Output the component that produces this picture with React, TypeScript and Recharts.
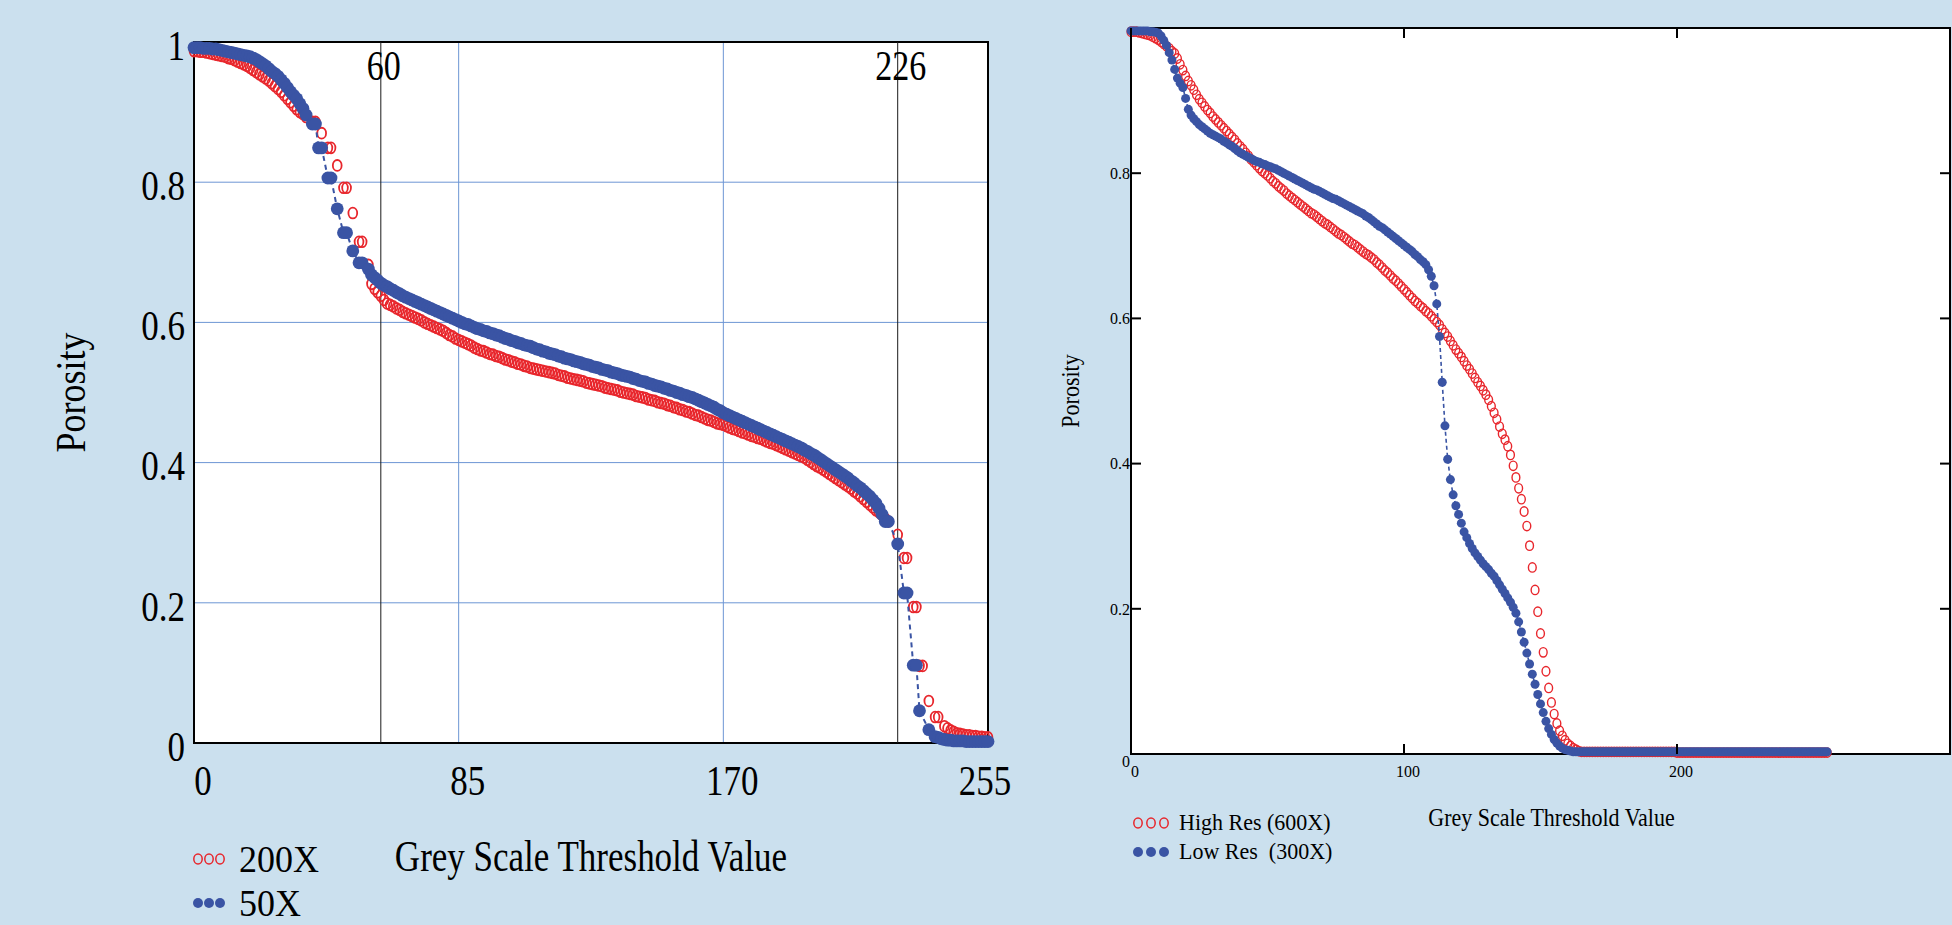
import React from 'react';
import {
  ScatterChart,
  Scatter,
  XAxis,
  YAxis,
  CartesianGrid,
  ReferenceLine,
  ReferenceArea,
  Legend,
} from 'recharts';

const SERIF = '"Liberation Serif", "Times New Roman", Times, serif';
const PAGE_BG = '#cbe0ee';
const RED = '#e8262c';
const BLUE = '#3a54a4';
const GRID_BLUE = '#6d96d4';

// threshold values on the x axis
const greyLevels = Array.from({ length: 256 }, (_, i) => i);

// left panel: porosity vs threshold, 200X and 50X (null = no sample at that level)
const porosity200X: (number | null)[] = [
  0.987, 0.987, 0.986, 0.986, 0.985, 0.984, 0.983, 0.982, 0.981, 0.980,
  0.979, 0.977, 0.976, 0.974, 0.972, 0.970, 0.968, 0.966, 0.963, 0.960,
  0.957, 0.954, 0.951, 0.948, 0.945, 0.941, 0.937, 0.933, 0.929, 0.924,
  0.919, 0.914, 0.909, 0.904, 0.900, 0.897, 0.893, null, 0.886, 0.886,
  null, 0.870, null, 0.849, 0.849, null, 0.824, null, 0.792, 0.792,
  null, 0.756, null, 0.715, 0.715, null, 0.682, 0.655, 0.648, 0.643,
  0.638, 0.632, 0.627, 0.625, 0.623, 0.620, 0.618, 0.615, 0.613, 0.611,
  0.609, 0.607, 0.605, 0.603, 0.600, 0.598, 0.596, 0.594, 0.592, 0.590,
  0.588, 0.585, 0.582, 0.580, 0.577, 0.575, 0.573, 0.571, 0.569, 0.567,
  0.564, 0.562, 0.560, 0.559, 0.557, 0.555, 0.554, 0.552, 0.551, 0.549,
  0.547, 0.546, 0.544, 0.543, 0.541, 0.540, 0.538, 0.537, 0.535, 0.534,
  0.533, 0.532, 0.531, 0.530, 0.529, 0.528, 0.527, 0.525, 0.524, 0.523,
  0.521, 0.520, 0.519, 0.518, 0.517, 0.516, 0.514, 0.513, 0.512, 0.511,
  0.510, 0.509, 0.507, 0.506, 0.505, 0.504, 0.503, 0.501, 0.500, 0.499,
  0.498, 0.497, 0.495, 0.494, 0.493, 0.492, 0.490, 0.489, 0.488, 0.486,
  0.485, 0.484, 0.482, 0.481, 0.479, 0.478, 0.476, 0.475, 0.473, 0.472,
  0.470, 0.468, 0.467, 0.465, 0.463, 0.461, 0.460, 0.458, 0.456, 0.455,
  0.454, 0.452, 0.450, 0.448, 0.447, 0.445, 0.443, 0.442, 0.440, 0.438,
  0.437, 0.435, 0.434, 0.432, 0.430, 0.428, 0.427, 0.425, 0.423, 0.421,
  0.419, 0.417, 0.415, 0.413, 0.411, 0.409, 0.407, 0.404, 0.401, 0.398,
  0.395, 0.393, 0.390, 0.387, 0.384, 0.381, 0.378, 0.375, 0.372, 0.369,
  0.366, 0.363, 0.359, 0.356, 0.352, 0.348, 0.344, 0.340, 0.336, 0.332,
  0.329, 0.325, 0.320, 0.316, null, null, 0.297, null, 0.264, 0.264,
  null, 0.194, 0.194, 0.110, 0.110, null, 0.060, null, 0.037, 0.037,
  null, 0.024, 0.021, 0.018, 0.016, 0.014, 0.013, 0.012, 0.011, 0.011,
  0.010, 0.010, 0.009, 0.009, 0.008, 0.008,
];

const porosity50X: (number | null)[] = [
  0.992, 0.992, 0.992, 0.991, 0.991, 0.991, 0.990, 0.990, 0.989, 0.988,
  0.987, 0.986, 0.985, 0.984, 0.983, 0.982, 0.981, 0.980, 0.979, 0.977,
  0.975, 0.972, 0.969, 0.966, 0.962, 0.958, 0.955, 0.951, 0.946, 0.941,
  0.935, 0.929, 0.924, 0.919, 0.912, 0.905, 0.896, null, 0.883, 0.883,
  0.849, 0.849, null, 0.806, 0.806, null, 0.762, null, 0.728, 0.728,
  null, 0.702, null, 0.685, 0.685, null, 0.676, 0.668, 0.664, 0.660,
  0.656, 0.653, 0.651, 0.648, 0.646, 0.643, 0.641, 0.638, 0.636, 0.634,
  0.632, 0.630, 0.628, 0.626, 0.624, 0.622, 0.620, 0.618, 0.616, 0.614,
  0.612, 0.610, 0.608, 0.606, 0.604, 0.602, 0.600, 0.598, 0.597, 0.595,
  0.593, 0.591, 0.590, 0.588, 0.587, 0.585, 0.584, 0.582, 0.581, 0.579,
  0.577, 0.576, 0.574, 0.573, 0.571, 0.570, 0.568, 0.567, 0.566, 0.564,
  0.562, 0.561, 0.559, 0.558, 0.556, 0.555, 0.554, 0.552, 0.551, 0.549,
  0.548, 0.547, 0.545, 0.544, 0.543, 0.541, 0.540, 0.539, 0.537, 0.536,
  0.535, 0.533, 0.532, 0.531, 0.529, 0.528, 0.527, 0.525, 0.524, 0.523,
  0.522, 0.520, 0.519, 0.517, 0.516, 0.515, 0.513, 0.512, 0.510, 0.509,
  0.508, 0.506, 0.505, 0.503, 0.502, 0.500, 0.499, 0.497, 0.496, 0.494,
  0.493, 0.491, 0.489, 0.487, 0.485, 0.483, 0.481, 0.479, 0.476, 0.474,
  0.471, 0.469, 0.467, 0.465, 0.463, 0.461, 0.459, 0.457, 0.455, 0.453,
  0.451, 0.449, 0.447, 0.445, 0.443, 0.441, 0.439, 0.437, 0.435, 0.433,
  0.431, 0.429, 0.427, 0.425, 0.423, 0.421, 0.418, 0.416, 0.413, 0.411,
  0.408, 0.405, 0.402, 0.399, 0.396, 0.393, 0.390, 0.387, 0.384, 0.381,
  0.378, 0.374, 0.371, 0.367, 0.364, 0.360, 0.356, 0.352, 0.347, 0.342,
  0.335, 0.326, 0.316, 0.316, null, null, 0.284, null, 0.214, 0.214,
  null, 0.111, 0.111, 0.046, null, null, 0.019, null, 0.009, 0.008,
  0.006, 0.005, 0.004, 0.004, 0.003, 0.003, 0.003, 0.003, 0.002, 0.002,
  0.002, 0.002, 0.002, 0.002, 0.002, 0.002,
];

// right panel: high res (600X) and low res (300X)
const porosityHighRes: (number | null)[] = [
  0.995, 0.995, 0.995, 0.994, 0.993, 0.992, 0.991, 0.990, 0.988, 0.986,
  0.984, 0.981, 0.978, 0.975, 0.972, 0.968, 0.965, 0.958, 0.950, 0.942,
  0.934, 0.927, 0.921, 0.915, 0.908, 0.902, 0.897, 0.892, 0.887, 0.883,
  0.878, 0.874, 0.870, 0.866, 0.862, 0.858, 0.854, 0.850, 0.846, 0.841,
  0.837, 0.833, 0.828, 0.824, 0.819, 0.815, 0.811, 0.807, 0.803, 0.800,
  0.797, 0.793, 0.789, 0.786, 0.782, 0.779, 0.776, 0.772, 0.769, 0.766,
  0.763, 0.760, 0.757, 0.754, 0.751, 0.748, 0.745, 0.743, 0.740, 0.737,
  0.734, 0.731, 0.729, 0.726, 0.723, 0.720, 0.717, 0.715, 0.712, 0.709,
  0.706, 0.703, 0.701, 0.698, 0.695, 0.692, 0.689, 0.687, 0.684, 0.681,
  0.677, 0.674, 0.670, 0.666, 0.663, 0.659, 0.655, 0.652, 0.648, 0.644,
  0.640, 0.636, 0.632, 0.628, 0.624, 0.621, 0.617, 0.614, 0.610, 0.607,
  0.603, 0.599, 0.595, 0.591, 0.585, 0.580, 0.575, 0.569, 0.563, 0.557,
  0.552, 0.547, 0.541, 0.535, 0.530, 0.524, 0.518, 0.512, 0.507, 0.501,
  0.495, 0.488, 0.479, 0.470, 0.461, 0.451, 0.441, 0.433, 0.424, 0.412,
  0.397, 0.381, 0.366, 0.351, 0.334, 0.314, 0.287, 0.257, 0.226, 0.196,
  0.166, 0.140, 0.114, 0.091, 0.071, 0.055, 0.042, 0.032, 0.025, 0.019,
  0.014, 0.011, 0.008, 0.006, 0.004, 0.003, 0.003, 0.003, 0.003, 0.003,
  0.003, 0.003, 0.003, 0.003, 0.003, 0.003, 0.003, 0.003, 0.003, 0.003,
  0.003, 0.003, 0.003, 0.003, 0.003, 0.003, 0.003, 0.003, 0.003, 0.003,
  0.003, 0.003, 0.003, 0.003, 0.003, 0.003, 0.003, 0.003, 0.003, 0.003,
  0.002, 0.002, 0.002, 0.002, 0.002, 0.002, 0.002, 0.002, 0.002, 0.002,
  0.002, 0.002, 0.002, 0.002, 0.002, 0.002, 0.002, 0.002, 0.002, 0.002,
  0.002, 0.002, 0.002, 0.002, 0.002, 0.002, 0.002, 0.002, 0.002, 0.002,
  0.002, 0.002, 0.002, 0.002, 0.002, 0.002, 0.002, 0.002, 0.002, 0.002,
  0.002, 0.002, 0.002, 0.002, 0.002, 0.002, 0.002, 0.002, 0.002, 0.002,
  0.002, 0.002, 0.002, 0.002, 0.002, 0.002,
];

const porosityLowRes: (number | null)[] = [
  0.996, 0.996, 0.996, 0.996, 0.996, 0.996, 0.996, 0.995, 0.995, 0.994,
  0.993, 0.989, 0.983, 0.976, 0.966, 0.956, 0.943, 0.931, 0.924, 0.918,
  0.903, 0.888, 0.880, 0.875, 0.871, 0.867, 0.864, 0.861, 0.858, 0.855,
  0.853, 0.851, 0.849, 0.847, 0.844, 0.842, 0.839, 0.837, 0.834, 0.831,
  0.828, 0.826, 0.824, 0.822, 0.820, 0.818, 0.816, 0.815, 0.813, 0.812,
  0.810, 0.809, 0.807, 0.806, 0.804, 0.802, 0.800, 0.798, 0.796, 0.794,
  0.792, 0.790, 0.788, 0.786, 0.784, 0.782, 0.780, 0.778, 0.777, 0.775,
  0.773, 0.771, 0.769, 0.767, 0.765, 0.764, 0.762, 0.760, 0.758, 0.756,
  0.754, 0.752, 0.750, 0.748, 0.746, 0.744, 0.741, 0.739, 0.736, 0.733,
  0.730, 0.727, 0.725, 0.722, 0.719, 0.716, 0.713, 0.710, 0.707, 0.704,
  0.701, 0.698, 0.695, 0.692, 0.688, 0.685, 0.681, 0.678, 0.674, 0.667,
  0.658, 0.645, 0.620, 0.575, 0.512, 0.452, 0.406, 0.378, 0.357, 0.342,
  0.330, 0.318, 0.306, 0.298, 0.290, 0.283, 0.277, 0.272, 0.267, 0.262,
  0.258, 0.254, 0.249, 0.245, 0.239, 0.233, 0.227, 0.221, 0.215, 0.209,
  0.202, 0.194, 0.182, 0.168, 0.154, 0.139, 0.124, 0.110, 0.096, 0.082,
  0.069, 0.057, 0.045, 0.035, 0.027, 0.020, 0.015, 0.011, 0.008, 0.006,
  0.005, 0.004, 0.003, 0.003, 0.003, 0.003, 0.003, 0.003, 0.003, 0.003,
  0.003, 0.003, 0.003, 0.003, 0.003, 0.003, 0.003, 0.003, 0.003, 0.003,
  0.003, 0.003, 0.003, 0.003, 0.003, 0.003, 0.003, 0.003, 0.003, 0.003,
  0.003, 0.003, 0.003, 0.003, 0.003, 0.003, 0.003, 0.003, 0.003, 0.003,
  0.003, 0.003, 0.003, 0.003, 0.003, 0.003, 0.003, 0.003, 0.003, 0.003,
  0.003, 0.003, 0.003, 0.003, 0.003, 0.003, 0.003, 0.003, 0.003, 0.003,
  0.003, 0.003, 0.003, 0.003, 0.003, 0.003, 0.003, 0.003, 0.003, 0.003,
  0.003, 0.003, 0.003, 0.003, 0.003, 0.003, 0.003, 0.003, 0.003, 0.003,
  0.003, 0.003, 0.003, 0.003, 0.003, 0.003, 0.003, 0.003, 0.003, 0.003,
  0.003, 0.003, 0.003, 0.003, 0.003, 0.003,
];

const leftXTicks = [0, 85, 170, 255];
const leftYTicks = [0, 0.2, 0.4, 0.6, 0.8, 1];
const rightXTicks = [0, 100, 200, 300];
const rightYTicks = [0, 0.2, 0.4, 0.6, 0.8, 1];
const markedLevels = [60, 226];

const toPoints = (ys: (number | null)[]) =>
  greyLevels
    .map((x, i) => ({ x, y: ys[i] }))
    .filter((p) => p.y !== null && p.y !== undefined);

// plot box sizes (px) used by the inward tick marks of the right panel
const RIGHT_PLOT_W = 819;
const RIGHT_PLOT_H = 726;

// Mathcad-like tall serif text
const StretchText = ({ x, y, size, sy = 1.25, anchor = 'middle', rotate = 0, children }: any) => (
  <text
    transform={`translate(${x},${y}) rotate(${rotate}) scale(1,${sy})`}
    textAnchor={anchor}
    dominantBaseline="central"
    fontFamily={SERIF}
    fontSize={size}
    fill="#000"
    style={{ whiteSpace: 'pre' }}
  >
    {children}
  </text>
);

const leftXTick = (p: any) => {
  const v = p.payload.value;
  return (
    <StretchText x={p.x + (v === 255 ? -3 : 9)} y={p.y + 37} size={35} sy={1.22}>
      {String(v)}
    </StretchText>
  );
};

const leftYTick = (p: any) => (
  <StretchText x={p.x - 9} y={p.y + 3} size={35} sy={1.22} anchor="end">
    {String(p.payload.value)}
  </StretchText>
);

const rightXTick = (p: any) => {
  const v = p.payload.value;
  return (
    <g>
      <line x1={p.x} x2={p.x} y1={p.y} y2={p.y - 10} stroke="#000" strokeWidth={2} />
      <line x1={p.x} x2={p.x} y1={p.y - RIGHT_PLOT_H} y2={p.y - RIGHT_PLOT_H + 10} stroke="#000" strokeWidth={2} />
      {v < 300 && (
        <StretchText x={p.x + 4} y={p.y + 17} size={16} sy={1.1}>
          {String(v)}
        </StretchText>
      )}
    </g>
  );
};

const rightYTick = (p: any) => {
  const v = p.payload.value;
  if (v === 1) return <g />;
  return (
    <g>
      <line x1={p.x} x2={p.x + 10} y1={p.y} y2={p.y} stroke="#000" strokeWidth={2} />
      <line x1={p.x + RIGHT_PLOT_W} x2={p.x + RIGHT_PLOT_W - 10} y1={p.y} y2={p.y} stroke="#000" strokeWidth={2} />
      <StretchText x={p.x - 1} y={p.y + (v === 0 ? 7 : 0)} size={16} sy={1.1} anchor="end">
        {String(v)}
      </StretchText>
    </g>
  );
};

const leftXTitle = (p: any) => {
  const vb = p.viewBox;
  return (
    <StretchText x={vb.x + vb.width / 2} y={vb.y + 114} size={35}>
      Grey Scale Threshold Value
    </StretchText>
  );
};

const leftYTitle = (p: any) => {
  const vb = p.viewBox;
  return (
    <StretchText x={vb.x - 63} y={vb.y + vb.height / 2} size={36} sy={1.2} rotate={-90}>
      Porosity
    </StretchText>
  );
};

const rightXTitle = (p: any) => {
  const vb = p.viewBox;
  return (
    <StretchText x={vb.x + vb.width / 2 + 11} y={vb.y + 64} size={22} sy={1.1}>
      Grey Scale Threshold Value
    </StretchText>
  );
};

const rightYTitle = (p: any) => {
  const vb = p.viewBox;
  return (
    <StretchText x={vb.x - 20} y={vb.y + vb.height / 2} size={22} sy={1.1} rotate={-90}>
      Porosity
    </StretchText>
  );
};

const levelLabel = (level: number) => (p: any) => {
  const vb = p.viewBox || { x: 0, y: 0 };
  return (
    <StretchText x={vb.x + 3} y={vb.y + 24} size={34}>
      {String(level)}
    </StretchText>
  );
};

const leftRing = (p: any) => (
  <ellipse cx={p.cx} cy={p.cy} rx={4.4} ry={5.4} fill="none" stroke={RED} strokeWidth={1.8} />
);
const leftDot = (p: any) => <circle cx={p.cx} cy={p.cy} r={6.4} fill={BLUE} />;
const rightRing = (p: any) => (
  <ellipse cx={p.cx} cy={p.cy} rx={3.9} ry={4.7} fill="none" stroke={RED} strokeWidth={1.4} />
);
const rightDot = (p: any) => <circle cx={p.cx} cy={p.cy} r={4.5} fill={BLUE} />;

const makeLegend = (opts: { rowH: number; lineH: number; size: number; sy: number; gap: number; r: number; step: number }) =>
  (p: any) => (
    <div>
      {(p.payload || []).map((e: any, i: number) => (
        <div key={e.value} style={{ display: 'flex', alignItems: 'center', height: opts.rowH }}>
          <svg width={opts.step * 2 + opts.r * 2 + 2} height={opts.r * 2 + 4}>
            {[0, 1, 2].map((k) => {
              const cx = opts.r + 1 + k * opts.step;
              const cy = opts.r + 2;
              return i === 0 ? (
                <ellipse key={k} cx={cx} cy={cy} rx={opts.r - 0.8} ry={opts.r} fill="none" stroke={RED} strokeWidth={1.5} />
              ) : (
                <circle key={k} cx={cx} cy={cy} r={opts.r} fill={BLUE} />
              );
            })}
          </svg>
          <span
            style={{
              marginLeft: opts.gap,
              fontFamily: SERIF,
              fontSize: opts.size,
              lineHeight: `${opts.lineH}px`,
              display: 'inline-block',
              transform: `scaleY(${opts.sy})`,
              whiteSpace: 'pre',
              color: '#000',
            }}
          >
            {e.value}
          </span>
        </div>
      ))}
    </div>
  );

const leftLegend = makeLegend({ rowH: 44, lineH: 34, size: 36, sy: 1.08, gap: 13, r: 5, step: 11 });
const rightLegend = makeLegend({ rowH: 29, lineH: 24, size: 22, sy: 1.05, gap: 9, r: 5, step: 13 });

const App: React.FC = () => {
  return (
    <div style={{ position: 'absolute', left: 0, top: 0, width: 1952, height: 925, background: PAGE_BG, overflow: 'hidden' }}>
      <div style={{ position: 'absolute', left: 0, top: 0 }}>
        <ScatterChart width={1040} height={925} margin={{ top: 42, right: 52, bottom: 142, left: 134 }}>
          <CartesianGrid stroke={GRID_BLUE} strokeWidth={1} fill="#fff" fillOpacity={1} />
          <XAxis
            type="number"
            dataKey="x"
            domain={[0, 255]}
            ticks={leftXTicks}
            interval={0}
            axisLine={false}
            tickLine={false}
            tickSize={0}
            tickMargin={0}
            height={40}
            tick={leftXTick}
            label={leftXTitle}
          />
          <YAxis
            type="number"
            dataKey="y"
            domain={[0, 1]}
            ticks={leftYTicks}
            interval={0}
            axisLine={false}
            tickLine={false}
            tickSize={0}
            tickMargin={0}
            width={60}
            tick={leftYTick}
            label={leftYTitle}
          />
          {markedLevels.map((lv) => (
            <ReferenceLine key={lv} x={lv} stroke="#1a1a1a" strokeWidth={1} label={levelLabel(lv)} />
          ))}
          <Scatter name="200X" data={toPoints(porosity200X)} shape={leftRing} isAnimationActive={false} />
          <Scatter
            name="50X"
            data={toPoints(porosity50X)}
            shape={leftDot}
            line={{ stroke: BLUE, strokeWidth: 2, strokeDasharray: '5 4' }}
            lineType="joint"
            isAnimationActive={false}
          />
          <ReferenceArea x1={0} x2={255} y1={0} y2={1} fill="none" stroke="#000" strokeWidth={2} />
          <Legend
            layout="horizontal"
            verticalAlign="middle"
            align="center"
            content={leftLegend}
            wrapperStyle={{ left: 192, top: 837, width: 220 }}
          />
        </ScatterChart>
      </div>
      <div style={{ position: 'absolute', left: 1040, top: 0 }}>
        <ScatterChart width={912} height={925} margin={{ top: 28, right: 2, bottom: 141, left: 51 }}>
          <CartesianGrid stroke="none" fill="#fff" fillOpacity={1} />
          <XAxis
            type="number"
            dataKey="x"
            domain={[0, 300]}
            ticks={rightXTicks}
            interval={0}
            axisLine={false}
            tickLine={false}
            tickSize={0}
            tickMargin={0}
            height={30}
            tick={rightXTick}
            label={rightXTitle}
          />
          <YAxis
            type="number"
            dataKey="y"
            domain={[0, 1]}
            ticks={rightYTicks}
            interval={0}
            axisLine={false}
            tickLine={false}
            tickSize={0}
            tickMargin={0}
            width={40}
            tick={rightYTick}
            label={rightYTitle}
          />
          <Scatter name="High Res (600X)" data={toPoints(porosityHighRes)} shape={rightRing} isAnimationActive={false} />
          <Scatter
            name="Low Res  (300X)"
            data={toPoints(porosityLowRes)}
            shape={rightDot}
            line={{ stroke: BLUE, strokeWidth: 1.6, strokeDasharray: '4 3' }}
            lineType="joint"
            isAnimationActive={false}
          />
          <ReferenceArea x1={0} x2={300} y1={0} y2={1} fill="none" stroke="#000" strokeWidth={2} />
          <Legend
            layout="horizontal"
            verticalAlign="middle"
            align="center"
            content={rightLegend}
            wrapperStyle={{ left: 92, top: 808, width: 260 }}
          />
        </ScatterChart>
      </div>
    </div>
  );
};

export default App;
